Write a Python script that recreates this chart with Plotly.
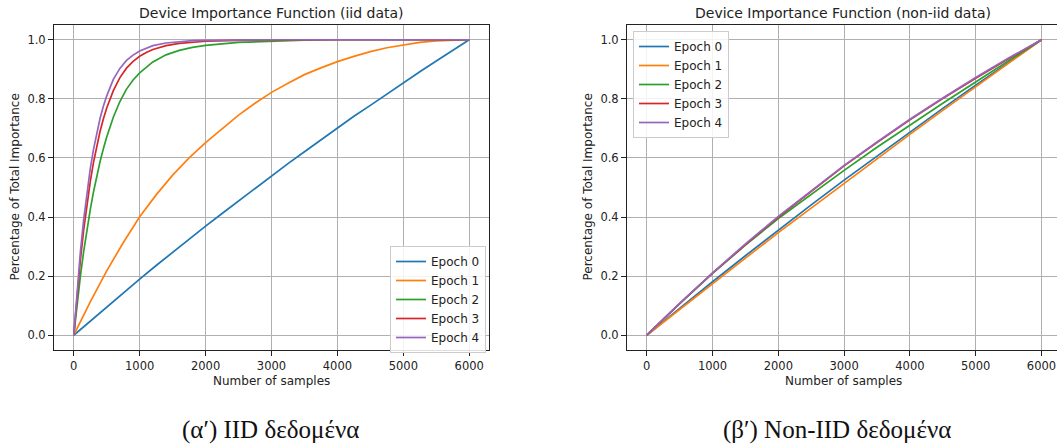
import plotly.graph_objects as go

# ---------------- data ----------------
epoch_names = ["Epoch 0", "Epoch 1", "Epoch 2", "Epoch 3", "Epoch 4"]
colors = ["#1f77b4", "#ff7f0e", "#2ca02c", "#d62728", "#9467bd"]

# IID panel
iid_x_slow = [0, 250, 500, 750, 1000, 1250, 1500, 1750, 2000, 2250, 2500, 2750,
              3000, 3250, 3500, 3750, 4000, 4250, 4500, 4750, 5000, 5250, 5500, 5750, 6000]
iid_epoch0 = [0, 0.048, 0.096, 0.143, 0.190, 0.236, 0.281, 0.325, 0.369, 0.412,
              0.455, 0.498, 0.539, 0.581, 0.621, 0.662, 0.701, 0.741, 0.778, 0.817,
              0.854, 0.892, 0.928, 0.964, 1.0]
iid_epoch1 = [0, 0.113, 0.218, 0.313, 0.401, 0.475, 0.542, 0.600, 0.652, 0.700,
              0.745, 0.785, 0.822, 0.853, 0.882, 0.905, 0.926, 0.944, 0.960, 0.973,
              0.983, 0.991, 0.996, 0.999, 1.0]

iid_x_fast = [0, 25, 50, 75, 100, 150, 200, 250, 300, 350, 400, 450, 500, 600,
              700, 800, 900, 1000, 1100, 1200, 1400, 1600, 1800, 2000, 2500,
              3000, 3500, 4000, 5000, 6000]
iid_epoch2 = [0, 0.054, 0.105, 0.153, 0.199, 0.283, 0.358, 0.425, 0.486, 0.540,
              0.589, 0.632, 0.671, 0.738, 0.791, 0.833, 0.864, 0.888, 0.908, 0.925,
              0.949, 0.964, 0.974, 0.981, 0.991, 0.996, 0.999, 1.0, 1.0, 1.0]
iid_epoch3 = [0, 0.070, 0.136, 0.197, 0.254, 0.356, 0.444, 0.520, 0.586, 0.642,
              0.691, 0.733, 0.769, 0.828, 0.872, 0.904, 0.927, 0.944, 0.957, 0.967,
              0.980, 0.988, 0.992, 0.995, 0.998, 1.0, 1.0, 1.0, 1.0, 1.0]
iid_epoch4 = [0, 0.079, 0.152, 0.219, 0.281, 0.391, 0.484, 0.563, 0.630, 0.687,
              0.735, 0.776, 0.810, 0.866, 0.903, 0.930, 0.948, 0.962, 0.972, 0.980,
              0.989, 0.994, 0.997, 0.998, 1.0, 1.0, 1.0, 1.0, 1.0, 1.0]

# Non-IID panel
noniid_x = [0, 500, 1000, 1500, 2000, 2500, 3000, 3500, 4000, 4500, 5000, 5500, 6000]
noniid_epoch0 = [0, 0.091, 0.181, 0.269, 0.356, 0.441, 0.525, 0.607, 0.688, 0.768, 0.846, 0.923, 1.0]
noniid_epoch1 = [0, 0.088, 0.175, 0.261, 0.347, 0.431, 0.515, 0.598, 0.680, 0.761, 0.841, 0.921, 1.0]
noniid_epoch2 = [0, 0.107, 0.209, 0.305, 0.395, 0.478, 0.558, 0.636, 0.712, 0.785, 0.857, 0.929, 1.0]
noniid_epoch3 = [0, 0.107, 0.210, 0.307, 0.400, 0.488, 0.573, 0.652, 0.729, 0.801, 0.870, 0.936, 1.0]
noniid_epoch4 = [0, 0.108, 0.211, 0.309, 0.402, 0.490, 0.575, 0.654, 0.731, 0.803, 0.872, 0.938, 1.0]

x_ticks = [0, 1000, 2000, 3000, 4000, 5000, 6000]
y_ticks = [0.0, 0.2, 0.4, 0.6, 0.8, 1.0]

titles = ["Device Importance Function (iid data)", "Device Importance Function (non-iid data)"]
x_label = "Number of samples"
y_label = "Percentage of Total Importance"
captions = ["(α′) IID δεδομένα", "(β′) Non-IID δεδομένα"]

# ---------------- figure ----------------
W, H = 1057, 448
FONT = "DejaVu Sans"
TXT = "#222222"
fig = go.Figure()

iid_series = [(iid_x_slow, iid_epoch0), (iid_x_slow, iid_epoch1),
              (iid_x_fast, iid_epoch2), (iid_x_fast, iid_epoch3), (iid_x_fast, iid_epoch4)]
for (xs, ys), name, c in zip(iid_series, epoch_names, colors):
    fig.add_trace(go.Scatter(x=xs, y=ys, mode="lines", name=name,
                             line=dict(color=c, width=1.7),
                             xaxis="x", yaxis="y", legend="legend"))

noniid_series = [noniid_epoch0, noniid_epoch1, noniid_epoch2, noniid_epoch3, noniid_epoch4]
for ys, name, c in zip(noniid_series, epoch_names, colors):
    fig.add_trace(go.Scatter(x=noniid_x, y=ys, mode="lines", name=name,
                             line=dict(color=c, width=1.7),
                             xaxis="x2", yaxis="y2", legend="legend2"))


def px_x(p):
    return p / W


def px_y(p):
    return 1 - p / H


top_px, bot_px = 25, 350
left_dom = [px_x(54), px_x(489)]
right_dom = [px_x(627), 1.0]
ydom = [px_y(bot_px), px_y(top_px)]

axis_common = dict(
    showgrid=True, gridcolor="#b0b0b0", gridwidth=0.8,
    zeroline=False, showline=True, linecolor="#222222", linewidth=1,
    ticks="outside", ticklen=5, tickcolor="#222222", tickwidth=1,
    tickfont=dict(family=FONT, size=11.5, color=TXT),
    automargin=False,
)

legend_common = dict(
    xanchor="left", yanchor="top",
    bgcolor="rgba(255,255,255,0.85)", bordercolor="#cccccc", borderwidth=1,
    font=dict(family=FONT, size=12, color=TXT),
    itemwidth=30, tracegroupgap=0,
)

fig.update_layout(
    width=W, height=H,
    margin=dict(l=0, r=0, t=0, b=0),
    paper_bgcolor="white", plot_bgcolor="white",
    font=dict(family=FONT, color=TXT),
    xaxis=dict(domain=left_dom, range=[-300, 6300], tickvals=x_ticks,
               mirror=True, anchor="y", **axis_common),
    yaxis=dict(domain=ydom, range=[-0.05, 1.05], tickvals=y_ticks, tickformat=".1f",
               mirror=True, anchor="x", **axis_common),
    xaxis2=dict(domain=right_dom, range=[-300, 6236], tickvals=x_ticks,
                mirror=True, anchor="y2", **axis_common),
    yaxis2=dict(domain=ydom, range=[-0.05, 1.05], tickvals=y_ticks, tickformat=".1f",
                mirror=False, anchor="x2", **axis_common),
    legend=dict(x=px_x(390), y=px_y(246), **legend_common),
    legend2=dict(x=px_x(633), y=px_y(31), **legend_common),
)

annotations = []
for cx, t in zip([271.5, 843], titles):
    annotations.append(dict(text=t, x=px_x(cx), y=px_y(13), xref="paper", yref="paper",
                            xanchor="center", yanchor="middle", showarrow=False,
                            font=dict(family=FONT, size=14, color=TXT)))
for cx in [271.5, 843]:
    annotations.append(dict(text=x_label, x=px_x(cx), y=px_y(381), xref="paper", yref="paper",
                            xanchor="center", yanchor="middle", showarrow=False,
                            font=dict(family=FONT, size=12, color=TXT)))
for lx in [14, 587]:
    annotations.append(dict(text=y_label, x=px_x(lx), y=px_y(187.5), xref="paper", yref="paper",
                            xanchor="center", yanchor="middle", showarrow=False, textangle=-90,
                            font=dict(family=FONT, size=12, color=TXT)))
for cx, t in zip([270, 837], captions):
    annotations.append(dict(text=t, x=px_x(cx), y=px_y(430), xref="paper", yref="paper",
                            xanchor="center", yanchor="middle", showarrow=False,
                            font=dict(family="Liberation Serif", size=25, color="#111111")))
fig.update_layout(annotations=annotations)

fig.write_html("out.html",
               config={"displayModeBar": False},
               post_script="document.body.style.margin='0px';document.body.style.overflow='hidden';")
